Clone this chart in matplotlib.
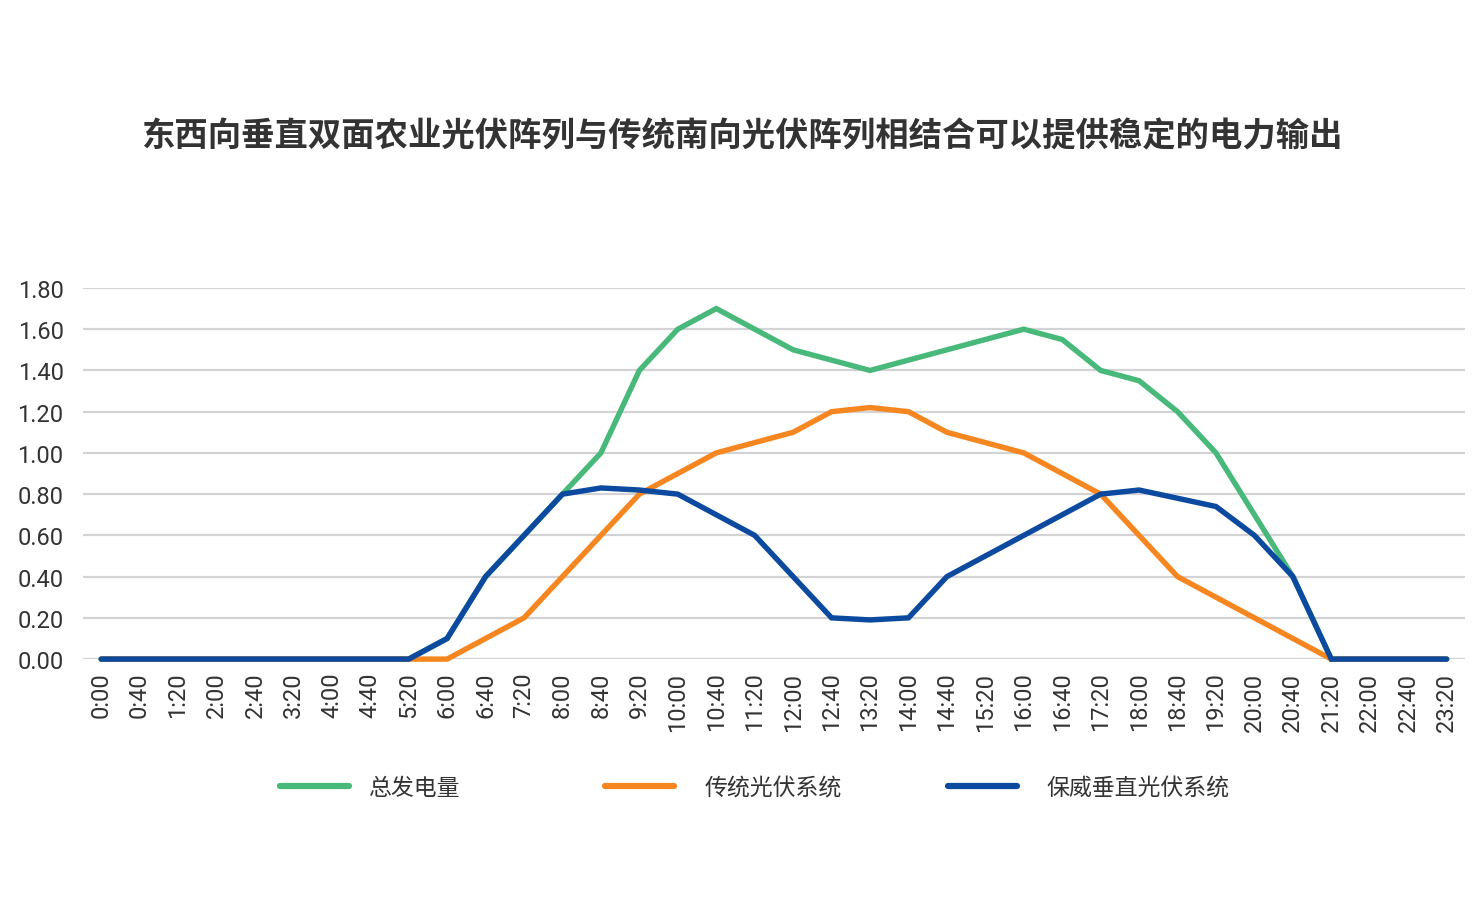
import matplotlib
matplotlib.use("Agg")
import matplotlib.pyplot as plt

plt.rcParams["font.family"] = ["Roboto", "Noto Sans CJK SC", "DejaVu Sans"]

# time axis, one point every 40 minutes
times = ["0:00", "0:40", "1:20", "2:00", "2:40", "3:20", "4:00", "4:40", "5:20",
         "6:00", "6:40", "7:20", "8:00", "8:40", "9:20", "10:00", "10:40", "11:20",
         "12:00", "12:40", "13:20", "14:00", "14:40", "15:20", "16:00", "16:40",
         "17:20", "18:00", "18:40", "19:20", "20:00", "20:40", "21:20", "22:00",
         "22:40", "23:20"]

total = [0, 0, 0, 0, 0, 0, 0, 0, 0,
         0.10, 0.40, 0.60, 0.80, 1.00, 1.40, 1.60, 1.70, 1.60,
         1.50, 1.45, 1.40, 1.45, 1.50, 1.55, 1.60, 1.55,
         1.40, 1.35, 1.20, 1.00, 0.70, 0.40, 0, 0, 0, 0]

south = [0, 0, 0, 0, 0, 0, 0, 0, 0,
         0, 0.10, 0.20, 0.40, 0.60, 0.80, 0.90, 1.00, 1.05,
         1.10, 1.20, 1.22, 1.20, 1.10, 1.05, 1.00, 0.90,
         0.80, 0.60, 0.40, 0.30, 0.20, 0.10, 0, 0, 0, 0]

vertical = [0, 0, 0, 0, 0, 0, 0, 0, 0,
            0.10, 0.40, 0.60, 0.80, 0.83, 0.82, 0.80, 0.70, 0.60,
            0.40, 0.20, 0.19, 0.20, 0.40, 0.50, 0.60, 0.70,
            0.80, 0.82, 0.78, 0.74, 0.60, 0.40, 0, 0, 0, 0]

labels = ["总发电量", "传统光伏系统", "保威垂直光伏系统"]
colors = ["#48b97a", "#f6861f", "#0b4a9f"]
title = "东西向垂直双面农业光伏阵列与传统南向光伏阵列相结合可以提供稳定的电力输出"

fig = plt.figure(figsize=(14.84, 9.03), dpi=100)
ax = fig.add_axes([0.056, 0.269, 0.931, 0.411])

x = list(range(len(times)))
lines = []
for series, label, color in zip([total, south, vertical], labels, colors):
    ln, = ax.plot(x, series, color=color, linewidth=3.9, label=label,
                  solid_joinstyle="miter", solid_capstyle="round", clip_on=False)
    lines.append(ln)

ax.set_xlim(-0.47, len(times) - 1 + 0.47)
ax.set_ylim(0, 1.8)
ax.set_yticks([i * 0.2 for i in range(10)])
ax.set_yticklabels([f"{i * 0.2:.2f}" for i in range(10)])
ax.set_xticks(x)
ax.set_xticklabels(times, rotation=90)
ax.tick_params(axis="y", length=0, pad=14, labelsize=17, labelcolor="#333333")
ax.tick_params(axis="x", length=0, pad=9, labelsize=17, labelcolor="#333333")
ax.grid(axis="y", color="#d3d3d6", linewidth=1.6)
ax.set_axisbelow(True)
for s in ax.spines.values():
    s.set_visible(False)

fig.text(0.5, 0.848, title, ha="center", va="center", fontsize=24,
         fontweight="bold", color="#333333", family=["Noto Sans CJK SC"])

# one small legend per entry so each sits where it does in the original
leg_x = [280 / 1484, 605 / 1484, 948 / 1484]
text_pad = [0.85, 1.35, 1.3]
for ln, lx, tp in zip(lines, leg_x, text_pad):
    leg = fig.legend(handles=[ln], loc="center left", bbox_to_anchor=(lx, 0.127),
                     frameon=False, fontsize=16.5, handlelength=3.0,
                     handletextpad=tp, borderpad=0, borderaxespad=0)
    for t in leg.get_texts():
        t.set_color("#333333")
    for h in leg.legend_handles:
        h.set_linewidth(4.5)

fig.savefig("out.png", dpi=100)
